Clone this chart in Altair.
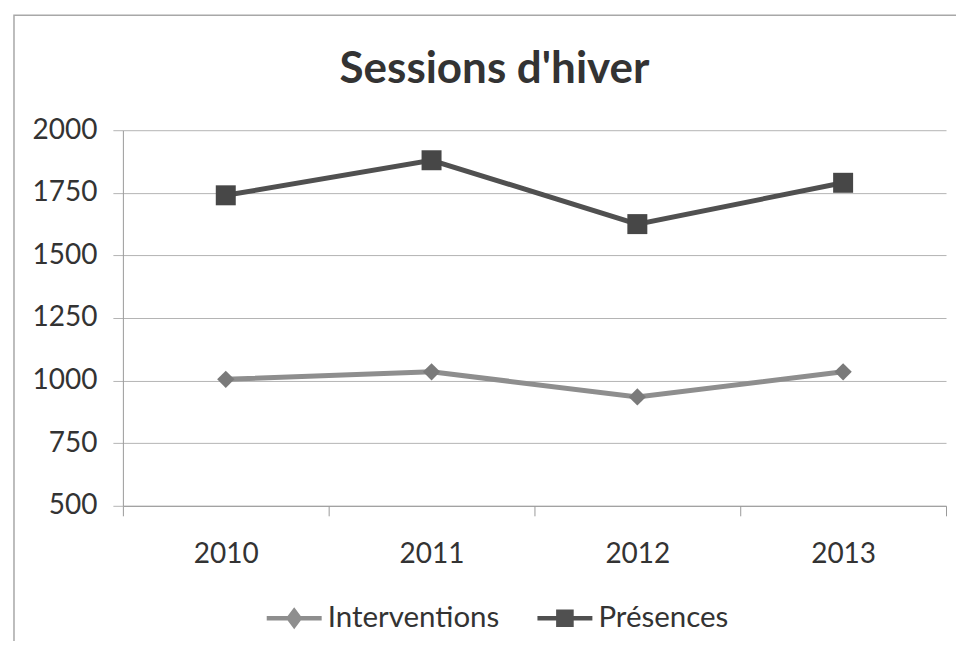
import altair as alt
import pandas as pd

years = ["2010", "2011", "2012", "2013"]
series_names = ["Interventions", "Présences"]
interventions = [1005, 1035, 935, 1035]
presences = [1740, 1880, 1625, 1790]
y_ticks = [500, 750, 1000, 1250, 1500, 1750, 2000]

rows = []
for y, v in zip(years, interventions):
    rows.append({"year": y, "series": "Interventions", "value": v})
for y, v in zip(years, presences):
    rows.append({"year": y, "series": "Présences", "value": v})
df = pd.DataFrame(rows)

FONT = "Lato"
line_colors = ["#8e8e8e", "#505050"]
marker_colors = ["#7a7a7a", "#474747"]

x_scale = alt.Scale(type="band", domain=years, paddingInner=0, paddingOuter=0)
x_enc = alt.X(
    "year:N",
    bandPosition=0.5,
    scale=x_scale,
    axis=alt.Axis(
        title=None, tickBand="extent", grid=False, labelAngle=0,
        labelFont=FONT, labelFontSize=28, labelColor="#333333",
        labelPadding=25, tickSize=10, tickColor="#9a9a9a",
        domainColor="#9a9a9a", domainWidth=1,
    ),
)
y_enc = alt.Y(
    "value:Q",
    scale=alt.Scale(domain=[500, 2000], nice=False, zero=False),
    axis=alt.Axis(
        title=None, values=y_ticks, grid=True, gridColor="#b4b4b4", gridWidth=1,
        format="d",
        labelFont=FONT, labelFontSize=28, labelColor="#333333",
        labelPadding=16, tickSize=10, tickColor="#b4b4b4",
        domainColor="#9a9a9a", domainWidth=1,
    ),
)

base = alt.Chart(df).encode(x=x_enc, y=y_enc)

def series_layers(name, color, mcolor, shape, size):
    b = base.transform_filter(alt.datum.series == name)
    ln = b.mark_line(strokeWidth=5, color=color)
    pt = b.mark_point(filled=True, opacity=1, strokeWidth=0, shape=shape, size=size, fill=mcolor)
    return ln, pt

l1, p1 = series_layers("Interventions", line_colors[0], marker_colors[0], "diamond", 300)
l2, p2 = series_layers("Présences", line_colors[1], marker_colors[1], "square", 400)

diamond_path = "M-1,-0.08L1,-0.08L1,0.08L-1,0.08Z M0,-0.4L0.3,0L0,0.4L-0.3,0Z"
square_path = "M-1,-0.08L1,-0.08L1,0.08L-1,0.08Z M-0.32,-0.32L0.32,-0.32L0.32,0.32L-0.32,0.32Z"

legend_def = alt.Legend(
    title=None, orient="none", direction="horizontal",
    legendX=144, legendY=461,
    labelFont=FONT, labelFontSize=29.5, labelColor="#333333", labelLimit=400,
    symbolSize=3025, symbolStrokeWidth=0, labelOffset=6,
    columnPadding=38, symbolOpacity=1,
)

legend_layer = alt.Chart(df).transform_filter("datum.value < 0").mark_point(filled=True).encode(
    x=alt.X("year:N", scale=x_scale),
    y=alt.Y("value:Q"),
    color=alt.Color("series:N", scale=alt.Scale(domain=series_names, range=line_colors), legend=legend_def),
    shape=alt.Shape("series:N", scale=alt.Scale(domain=series_names, range=[diamond_path, square_path]),
                    legend=legend_def),
)

frame = alt.Chart(pd.DataFrame({"a": [0]})).mark_rect(
    filled=False, stroke="#a8a8a8", strokeWidth=1.5
).encode(
    x=alt.value(-109), x2=alt.value(860), y=alt.value(-115), y2=alt.value(525)
)

chart = alt.layer(frame, l1, l2, p1, p2, legend_layer).properties(
    width=824,
    height=376,
    autosize=alt.AutoSizeParams(type="none"),
    padding={"left": 115, "top": 122, "right": 10, "bottom": 135},
    title=alt.TitleParams(
        "Sessions d'hiver", font=FONT, fontSize=44, fontWeight="bold",
        color="#333333", anchor="middle", baseline="bottom", offset=-121, dx=-40,
        frame="group",
    ),
    background="white",
).configure_view(stroke=None)

chart.save("out.html", embed_options={"renderer": "svg", "actions": False})
